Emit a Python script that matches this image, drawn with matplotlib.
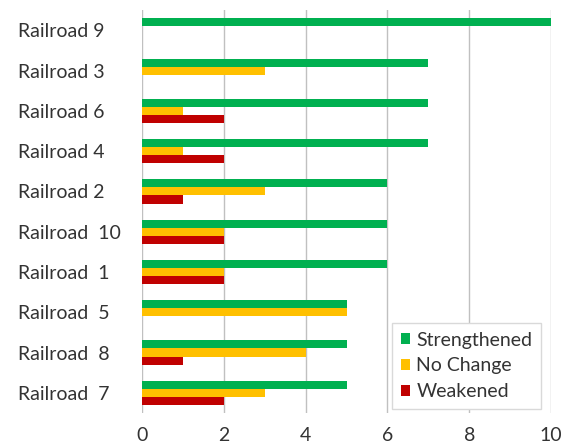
import numpy as np
import matplotlib.pyplot as plt

plt.rcParams['font.family'] = ['Lato', 'DejaVu Sans']

railroads = ['Railroad 9', 'Railroad 3', 'Railroad 6', 'Railroad 4', 'Railroad 2',
             'Railroad  10', 'Railroad  1', 'Railroad  5', 'Railroad  8', 'Railroad  7']
strengthened = [10, 7, 7, 7, 6, 6, 6, 5, 5, 5]
no_change = [0, 3, 1, 1, 3, 2, 2, 5, 4, 3]
weakened = [0, 0, 2, 2, 1, 2, 2, 0, 1, 2]

green, yellow, red = '#00B050', '#FFC000', '#C00000'

fig = plt.figure(figsize=(5.7, 4.44), dpi=100)
ax = fig.add_axes([0.249, 0.07, 0.718, 0.907])

y = np.arange(len(railroads))
h = 0.2
ax.barh(y - h, strengthened, height=h, color=green, label='Strengthened', zorder=3)
ax.barh(y, no_change, height=h, color=yellow, label='No Change', zorder=3)
ax.barh(y + h, weakened, height=h, color=red, label='Weakened', zorder=3)

ax.set_ylim(len(railroads) - 0.5, -0.5)
ax.set_xlim(0, 10)
ax.set_xticks([0, 2, 4, 6, 8, 10])
ax.set_yticks(y)
ax.set_yticklabels(railroads, ha='left')
ax.grid(axis='x', color='#c0c0c0', lw=1, zorder=0)
for s in ax.spines.values():
    s.set_visible(False)
ax.tick_params(axis='both', length=0, labelsize=14, colors='#333333')
ax.tick_params(axis='y', pad=89)
ax.tick_params(axis='x', pad=10)

leg = ax.legend(loc='lower right', bbox_to_anchor=(0.975, 0.01), fontsize=14,
                handlelength=0.5, handleheight=0.5, handletextpad=0.3,
                fancybox=False, framealpha=1, edgecolor='#d9d9d9',
                borderpad=0.45, labelspacing=0.45, borderaxespad=0)
for t in leg.get_texts():
    t.set_color('#333333')
leg.set_zorder(5)

fig.savefig('out.png', dpi=100)
